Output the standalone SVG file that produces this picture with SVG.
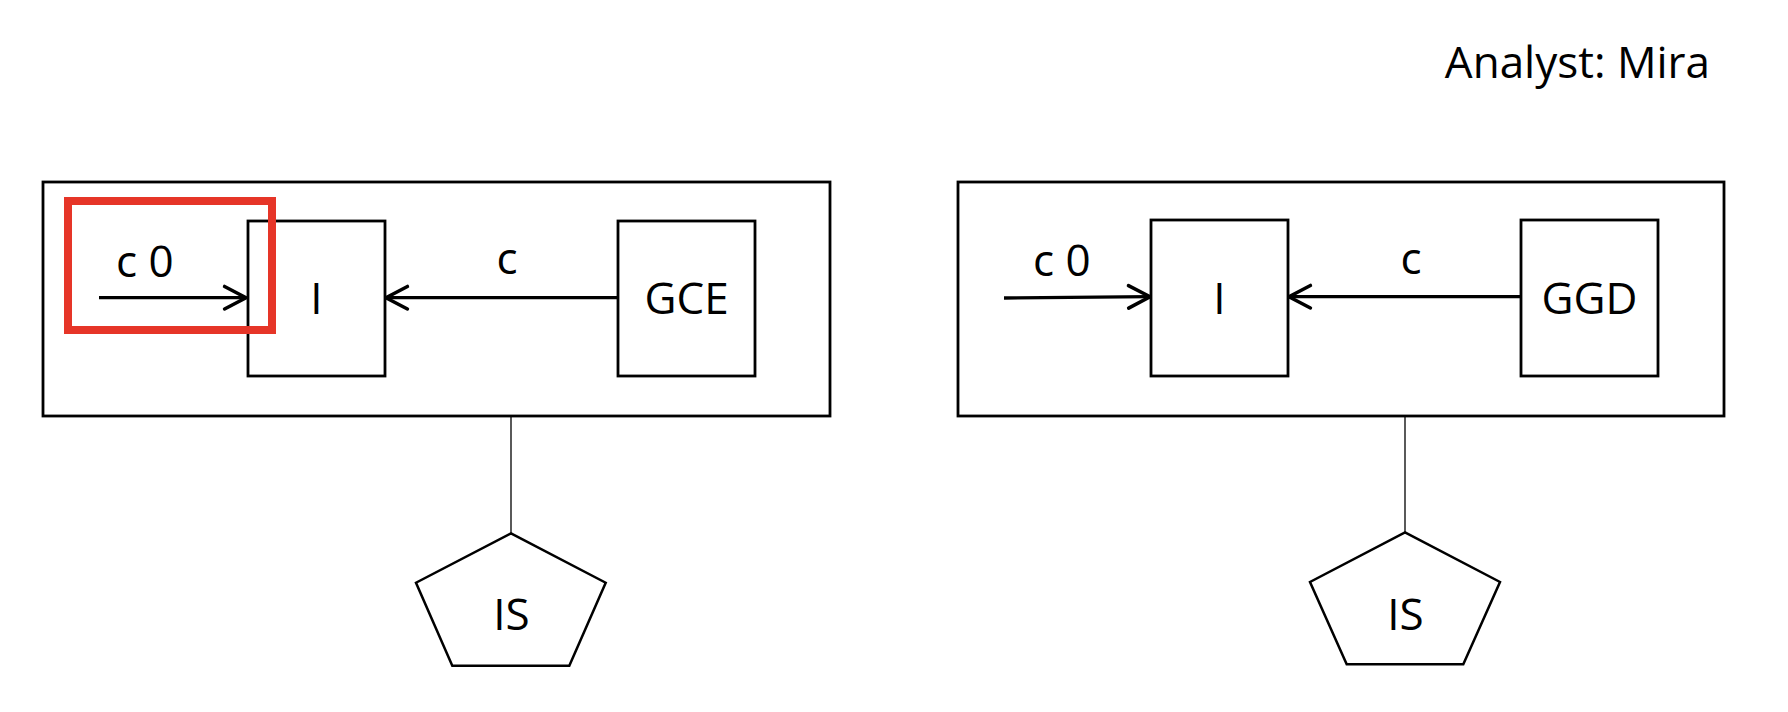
<svg xmlns="http://www.w3.org/2000/svg" width="1788" height="712" viewBox="0 0 1788 712">
<defs>
<style>
.box{fill:#fff;stroke:#000;stroke-width:2.8}
.pent{fill:#fff;stroke:#000;stroke-width:2.5;stroke-linejoin:miter}
.arr{fill:none;stroke:#000;stroke-width:3.3}
.link{fill:none;stroke:#000;stroke-width:1.3}
.t{font-family:"Open Sans","Liberation Sans",sans-serif;font-size:44px;fill:#000}
.mid{text-anchor:middle}
.hl{fill:none;stroke:#E63528;stroke-width:8}
</style>
<marker id="ah" markerUnits="userSpaceOnUse" markerWidth="30" markerHeight="30" refX="0" refY="0" viewBox="-24 -14 28 28" orient="auto" overflow="visible">
<path d="M-20,-10.5 L0,0 L-20,10.5" fill="none" stroke="#000" stroke-width="3.3" stroke-linecap="round"/>
</marker>
</defs>
<rect width="1788" height="712" fill="#fff"/>
<text id="analyst" class="t" x="1710" y="78" text-anchor="end" style="font-size:44px">Analyst: Mira</text>

<g id="left-frame"><rect class="box" x="43" y="182" width="787" height="234"/></g>
<g id="right-frame"><rect class="box" x="958" y="182" width="766" height="234"/></g>

<g id="connectors">
<line class="arr" x1="99" y1="297.7" x2="246" y2="297.7" marker-end="url(#ah)"/>
<line class="arr" x1="618" y1="297.7" x2="386" y2="297.7" marker-end="url(#ah)"/>
<line class="arr" x1="1004" y1="298" x2="1150" y2="296.7" marker-end="url(#ah)"/>
<line class="arr" x1="1521" y1="296.7" x2="1289" y2="296.7" marker-end="url(#ah)"/>
<line class="link" x1="511" y1="417" x2="511" y2="533"/>
<line class="link" x1="1405" y1="417" x2="1405" y2="532"/>
<text class="t" x="116" y="277">c 0</text>
<text class="t mid" x="507" y="274">c</text>
<text class="t" x="1033" y="276">c 0</text>
<text class="t mid" x="1411" y="274">c</text>
</g>

<g id="left-I">
<rect class="box" x="248" y="221" width="137" height="155"/>
<text class="t mid" x="316.5" y="314">I</text>
</g>
<g id="left-GCE">
<rect class="box" x="618" y="221" width="137" height="155"/>
<text class="t mid" x="686.5" y="314">GCE</text>
</g>
<g id="right-I">
<rect class="box" x="1151" y="220" width="137" height="156"/>
<text class="t mid" x="1219.5" y="314">I</text>
</g>
<g id="right-GGD">
<rect class="box" x="1521" y="220" width="137" height="156"/>
<text class="t mid" x="1589.5" y="314">GGD</text>
</g>
<g id="left-IS">
<polygon class="pent" points="511,533.3 605.7,582.7 569.3,665.7 452.3,665.7 416,582.7"/>
<text class="t mid" x="511.5" y="630">IS</text>
</g>
<g id="right-IS">
<polygon class="pent" points="1405,532.3 1500,582 1463.3,664.3 1346.7,664.3 1310,582"/>
<text class="t mid" x="1405.5" y="630">IS</text>
</g>

<g id="highlight"><rect class="hl" x="68" y="201" width="204" height="129"/></g>
</svg>
